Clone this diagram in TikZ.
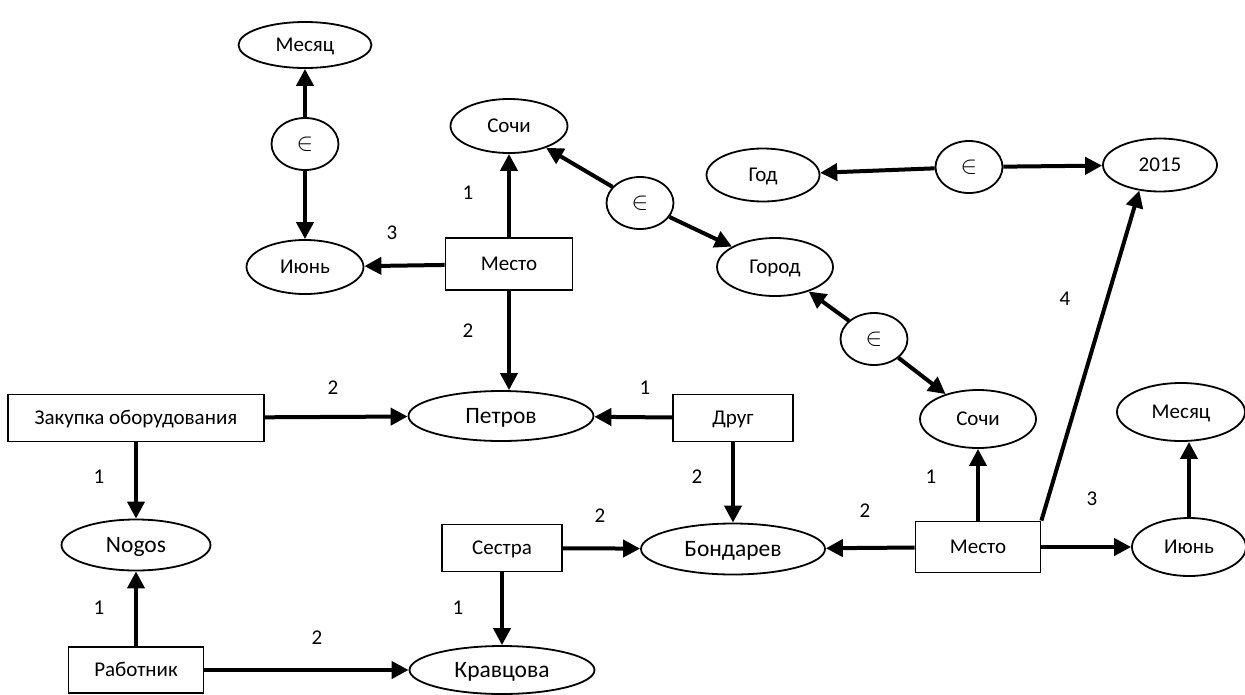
\documentclass[tikz,border=0pt]{standalone}
\usepackage{fontspec}
\setmainfont{Carlito}
\usepackage{tikz}
\usetikzlibrary{arrows.meta,shapes.geometric,positioning}

\begin{document}
\begin{tikzpicture}[
    x=1pt, y=-1pt,
    font=\fontsize{21}{25}\selectfont,
    >={Triangle[length=17pt,width=17pt]},
    concept/.style={
        ellipse,
        draw,
        line width=1.8pt,
        inner sep=0pt,
        text height=13.4pt,
        text depth=0pt,
        minimum width=#1,
        minimum height=54pt
    },
    concept/.default=116pt,
    person/.style={concept=#1, font=\fontsize{23.5}{28}\selectfont, text height=15pt},
    relation/.style={
        rectangle,
        draw,
        line width=1.8pt,
        inner sep=0pt,
        text height=13.4pt,
        text depth=0pt,
        minimum width=#1,
        minimum height=48pt
    },
    relation/.default=122pt,
    member/.style={ellipse, draw, line width=1.8pt, inner sep=0pt, minimum width=67pt, minimum height=52pt,
        font=\fontsize{26}{30}\selectfont},
    link/.style={->, line width=4pt},
    num/.style={inner sep=0pt, text height=13.4pt, text depth=0pt}
]
\useasboundingbox (0,0) rectangle (1245,694);

% TOP LEFT

\node[concept=133pt, minimum height=46pt] (mesTL) at (305,45) {Месяц};
\node[member, below of=mesTL, node distance=99pt] (inTL) {$\in$};
\node[concept=117pt] (junTL) at (305,267) {Июнь};

\node[relation=127pt, minimum height=52pt] (mestoT) at (509,264) {Место};
\node[concept=117pt, above of=mestoT, node distance=138pt] (sochiT) {Сочи};
\node[person=185pt, minimum height=50pt, below of=mestoT, node distance=152pt, xshift=-8pt] (petrov) {Петров};

% TOP RIGHT

\node[member] (inSG) at (640,203) {$\in$};
\node[concept=113pt, minimum height=53pt] (god) at (763,175) {Год};
\node[member] (inTR) at (969,167) {$\in$};
\node[concept=114pt, minimum height=53pt] (y2015) at (1160,165) {2015};
\node[concept=116pt, minimum height=58pt] (gorod) at (775,267) {Город};
\node[member] (inGS) at (874,339) {$\in$};

% BOTTOM

\node[relation=256pt, minimum height=47pt] (zakup) at (136,418) {Закупка оборудования};
\node[person=149pt, minimum height=51pt, below of=zakup, node distance=127pt] (nogos) {Nogos};
\node[relation=135pt, minimum height=46pt, below of=nogos, node distance=125pt] (rabot) {Работник};

\node[relation=120pt, minimum height=47pt] (sestra) at (502,548) {Сестра};
\node[person=185pt, minimum height=48pt, below of=sestra, node distance=122pt] (kravz) {Кравцова};

\node[relation=120pt, minimum height=47pt] (drug) at (733,418) {Друг};
\node[person=184pt, minimum height=51pt, below of=drug, node distance=131pt] (bond) {Бондарев};

\node[relation=125pt, minimum height=51pt] (mestoR) at (978,547) {Место};
\node[concept=116pt, minimum height=58pt, above of=mestoR, node distance=128pt] (sochiR) {Сочи};
\node[concept=114pt, minimum height=58pt, right of=mestoR, node distance=211pt] (junR) {Июнь};
\node[concept=128pt, minimum height=58pt, above of=junR, node distance=135pt, xshift=-8pt] (mesR) {Месяц};

% --- NUMBERS ---
\node[num] (n1) at (468,193) {1};
\node[num] (n2) at (392,233) {3};
\node[num] (n3) at (468,331) {2};
\node[num] (n4) at (333,388) {2};
\node[num] (n5) at (99,477) {1};
\node[num] (n6) at (99,608) {1};
\node[num] (n7) at (317,638) {2};
\node[num] (n8) at (645,388) {1};
\node[num] (n9) at (697,477) {2};
\node[num] (n10) at (600,516) {2};
\node[num] (n11) at (458,608) {1};
\node[num] (n12) at (865,511) {2};
\node[num] (n13) at (931,477) {1};
\node[num] (n14) at (1092,499) {3};
\node[num] (n15) at (1065,299) {4};

% --- ARROWS ---
% membership
\draw[link] (inTL) -- (mesTL);
\draw[link] (inTL) -- (junTL);
\draw[link] (inSG) -- (sochiT);
\draw[link] (inSG) -- (gorod);
\draw[link] (inTR) -- (god);
\draw[link] (inTR) -- (y2015);
\draw[link] (inGS) -- (gorod);
\draw[link] (inGS) -- (sochiR);

% From Mesto (top)
\draw[link] (mestoT) -- (sochiT);
\draw[link] (mestoT) -- (junTL);
\draw[link] (mestoT) -- (mestoT |- petrov.north);

% From Zakupka
\draw[link] (zakup) -- (petrov);
\draw[link] (zakup.south -| nogos) -- (nogos);

% From Rabotnik
\draw[link] (rabot) -- (nogos);
\draw[link] (rabot) -- (kravz);

% From Drug
\draw[link] (drug) -- (petrov);
\draw[link] (drug) -- (bond);

% From Sestra
\draw[link] (sestra) -- (bond);
\draw[link] (sestra) -- (kravz);

% From Mesto (bottom)
\draw[link] (mestoR) -- (sochiR);
\draw[link] (mestoR) -- (bond);
\draw[link] (mestoR) -- (junR);
\draw[link] (mestoR.north east) -- (y2015.231);

% From Iyun
\draw[link] (junR) -- (junR |- mesR.south);

\end{tikzpicture}
\end{document}
